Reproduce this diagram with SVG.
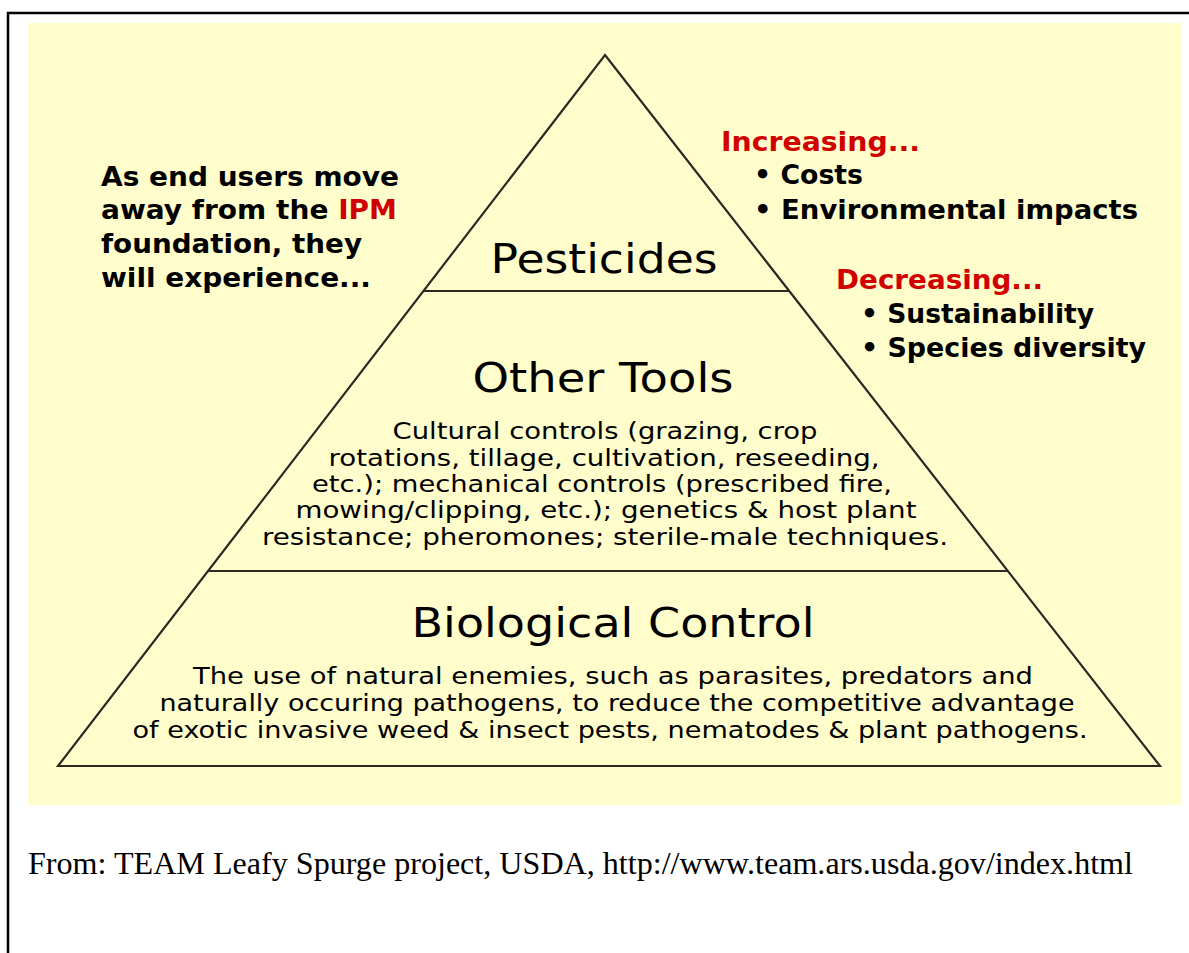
<svg xmlns="http://www.w3.org/2000/svg" width="1189" height="953" viewBox="0 0 1189 953">
<style>
.bg{fill:#FFFDCC}
.frame{fill:none;stroke:#000;stroke-width:2.5}
.edge{fill:none;stroke:#2a2a22;stroke-width:2.2;stroke-linejoin:miter}
.title{font-family:"DejaVu Sans",Verdana,sans-serif;font-size:41px;fill:#000;text-anchor:middle}
.body{font-family:"DejaVu Sans",Verdana,sans-serif;font-size:23px;fill:#000;text-anchor:middle}
.side{font-family:"DejaVu Sans",Verdana,sans-serif;font-weight:bold;font-size:26px;fill:#000}
.red{fill:#D00000}
.cap{font-family:"Liberation Serif","Times New Roman",serif;font-size:32px;fill:#000}
</style>
<rect x="0" y="0" width="1189" height="953" fill="#fff"/>
<rect class="frame" x="8" y="13" width="1220" height="1000"/>
<rect class="bg" x="28" y="23" width="1153" height="782"/>
<g id="pyramid">
<polygon class="edge" points="605,55 1160,766 58,766"/>
<line class="edge" x1="423" y1="291" x2="789" y2="291"/>
<line class="edge" x1="208" y1="571" x2="1008" y2="571"/>
</g>
<g id="pesticides">
<text class="title" x="604" y="273" textLength="227" lengthAdjust="spacingAndGlyphs">Pesticides</text>
</g>
<g id="other-tools">
<text class="title" x="603" y="392" font-size="43" textLength="261" lengthAdjust="spacingAndGlyphs">Other Tools</text>
<text class="body" x="605" y="439" textLength="425" lengthAdjust="spacingAndGlyphs">Cultural controls (grazing, crop</text>
<text class="body" x="604" y="466" textLength="551" lengthAdjust="spacingAndGlyphs">rotations, tillage, cultivation, reseeding,</text>
<text class="body" x="602" y="492" textLength="580" lengthAdjust="spacingAndGlyphs">etc.); mechanical controls (prescribed fire,</text>
<text class="body" x="606" y="518" textLength="621" lengthAdjust="spacingAndGlyphs">mowing/clipping, etc.); genetics &amp; host plant</text>
<text class="body" x="605" y="545" textLength="686" lengthAdjust="spacingAndGlyphs">resistance; pheromones; sterile-male techniques.</text>
</g>
<g id="biological-control">
<text class="title" x="613" y="637" font-size="44" textLength="403" lengthAdjust="spacingAndGlyphs">Biological Control</text>
<text class="body" x="613" y="684" textLength="840" lengthAdjust="spacingAndGlyphs">The use of natural enemies, such as parasites, predators and</text>
<text class="body" x="617" y="711" textLength="915" lengthAdjust="spacingAndGlyphs">naturally occuring pathogens, to reduce the competitive advantage</text>
<text class="body" x="610" y="738" textLength="955" lengthAdjust="spacingAndGlyphs">of exotic invasive weed &amp; insect pests, nematodes &amp; plant pathogens.</text>
</g>
<g id="left-note">
<text class="side" x="101" y="186" textLength="298" lengthAdjust="spacingAndGlyphs">As end users move</text>
<text class="side" x="101" y="219" textLength="296" lengthAdjust="spacingAndGlyphs">away from the <tspan class="red">IPM</tspan></text>
<text class="side" x="101" y="253" textLength="261" lengthAdjust="spacingAndGlyphs">foundation, they</text>
<text class="side" x="101" y="287" textLength="270" lengthAdjust="spacingAndGlyphs">will experience...</text>
</g>
<g id="right-note">
<text class="side red" x="721" y="151" textLength="199" lengthAdjust="spacingAndGlyphs">Increasing...</text>
<text class="side" x="754" y="184" textLength="109" lengthAdjust="spacingAndGlyphs">• Costs</text>
<text class="side" x="754" y="219" textLength="384" lengthAdjust="spacingAndGlyphs">• Environmental impacts</text>
<text class="side red" x="836" y="289" textLength="207" lengthAdjust="spacingAndGlyphs">Decreasing...</text>
<text class="side" x="861" y="323" textLength="233" lengthAdjust="spacingAndGlyphs">• Sustainability</text>
<text class="side" x="861" y="357" textLength="285" lengthAdjust="spacingAndGlyphs">• Species diversity</text>
</g>
<g id="caption">
<text class="cap" x="28" y="874" textLength="1105" lengthAdjust="spacingAndGlyphs">From: TEAM Leafy Spurge project, USDA, http://www.team.ars.usda.gov/index.html</text>
</g>
</svg>
